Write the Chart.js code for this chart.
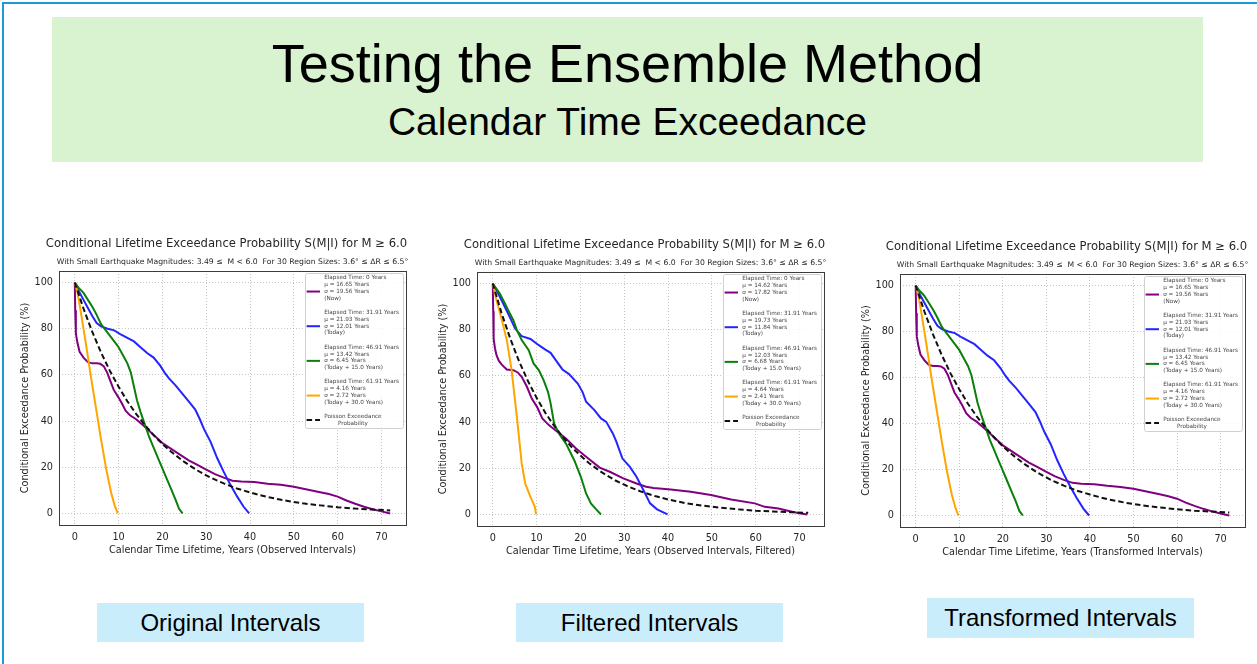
<!DOCTYPE html>
<html>
<head>
<meta charset="utf-8">
<script src="https://cdn.jsdelivr.net/npm/chart.js@4.4.1/dist/chart.umd.min.js"></script>
<style>
  html, body { margin: 0; padding: 0; width: 1257px; height: 664px; overflow: hidden; background: #fff; }
  .abs { position: absolute; }
  .head { font-family: 'Liberation Sans', Arial, sans-serif; color: #000; white-space: nowrap; text-align: center; }
  .tag { position: absolute; background: #caedfb; display: flex; align-items: center; justify-content: center;
         font-family: 'Liberation Sans', Arial, sans-serif; font-size: 24px; color: #000; }
</style>
</head>
<body>
<div class="abs" style="left:2px;top:2px;width:1255px;height:2px;background:#1b9bd7"></div>
<div class="abs" style="left:2px;top:2px;width:2px;height:662px;background:#1b9bd7"></div>

<div class="abs" style="left:52px;top:17px;width:1151px;height:145px;background:#d9f2d0"></div>
<div class="abs head" style="left:52px;width:1151px;top:36px;font-size:54px;line-height:54px">Testing the Ensemble Method</div>
<div class="abs head" style="left:52px;width:1151px;top:102px;font-size:39px;line-height:39px">Calendar Time Exceedance</div>

<canvas id="c1" class="abs" width="420" height="328" style="left:10px;top:229px"></canvas>
<canvas id="c2" class="abs" width="416" height="328" style="left:430px;top:230px"></canvas>
<canvas id="c3" class="abs" width="405" height="327" style="left:852px;top:232px"></canvas>

<div class="tag" style="left:97px;top:603px;width:267px;height:39px">Original Intervals</div>
<div class="tag" style="left:516px;top:603px;width:267px;height:39px">Filtered Intervals</div>
<div class="tag" style="left:927px;top:598px;width:267px;height:40px">Transformed Intervals</div>

<script>
// ---- tick labels ----
const xTicks = [0, 10, 20, 30, 40, 50, 60, 70];
const yTicks = [0, 20, 40, 60, 80, 100];

// ---- original intervals (also used by the transformed panel, which is identical) ----
const origNowT = [0, 0.1, 0.25, 0.6, 1.1, 2.0, 3.0, 4.0, 5.0, 5.8, 6.6, 7.4, 8.2, 8.9, 9.9, 10.8, 11.6, 12.6, 14, 16, 18, 20, 22, 24, 26, 28, 30, 32, 34, 36, 38, 41, 44, 47, 50, 53, 56, 58, 60, 62, 64, 66, 68, 70, 72];
const origNowP = [100, 88, 78, 74, 70, 67.5, 65.5, 65, 65, 64.8, 63.8, 61, 57, 53.5, 50.5, 47.5, 44.5, 42.5, 40.8, 37.5, 34, 30.5, 28, 25.5, 23, 21, 19, 17, 15.5, 14.2, 13.8, 13.6, 12.9, 12.4, 11.6, 10.4, 9.2, 8.4, 7.3, 5.6, 4.2, 2.9, 1.8, 0.9, 0];
const origTodayT = [0, 1, 2, 3, 4, 5, 6, 7.5, 9, 10.5, 12, 13.5, 15, 16.5, 18, 19.5, 20.5, 21.5, 23, 24.5, 26, 27.5, 28.5, 29.5, 31, 32.5, 34, 35.5, 37, 38.5, 39.8];
const origTodayP = [100, 96, 92.5, 89, 85.5, 82.5, 81, 80, 79.3, 77.5, 76, 74.5, 72, 69.5, 67.5, 64, 61, 58.5, 55.5, 52, 48.5, 45, 41, 36.5, 31, 24, 18, 12.5, 7.5, 3, 0];
const origT15T = [0, 1, 2, 3, 4, 5, 6, 7, 8, 9, 10, 11, 12, 12.8, 13.5, 14.2, 15, 16, 17, 18, 19, 20, 21, 22, 23, 23.8, 24.6];
const origT15P = [100, 97.5, 95.5, 92.5, 89.5, 86, 82, 79.5, 77, 74.5, 72, 68.5, 65, 61, 55, 49, 44, 38.5, 33, 28.5, 24, 19.5, 15, 10.5, 6, 2, 0];
const origT30T = [0, 0.6, 1.4, 2.5, 3.7, 4.9, 6, 7.2, 8.3, 9.1, 9.8];
const origT30P = [100, 96, 87, 74, 59, 45, 32, 19, 9, 3.5, 0];
const poissonT = [0, 2, 4, 6, 8, 10, 12, 14, 16, 18, 20, 22, 25, 28, 31, 34, 37, 40, 44, 48, 52, 56, 60, 64, 68, 72];
const origPoissonP = [100, 88.7, 78.6, 69.7, 61.8, 54.9, 48.6, 43.1, 38.3, 33.9, 30.1, 26.7, 22.3, 18.6, 15.5, 13.0, 10.8, 9.1, 7.1, 5.6, 4.4, 3.5, 2.7, 2.1, 1.7, 1.3];
const origLabels = [
  'Elapsed Time: 0 Years\nμ = 16.65 Years\nσ = 19.56 Years\n(Now)\n',
  'Elapsed Time: 31.91 Years\nμ = 21.93 Years\nσ = 12.01 Years\n(Today)\n',
  'Elapsed Time: 46.91 Years\nμ = 13.42 Years\nσ = 6.45 Years\n(Today + 15.0 Years)\n',
  'Elapsed Time: 61.91 Years\nμ = 4.16 Years\nσ = 2.72 Years\n(Today + 30.0 Years)\n',
  'Poisson Exceedance\nProbability'
];

// ---- filtered intervals ----
const filtNowT = [0, 0.1, 0.2, 0.5, 0.85, 1.4, 2, 3.2, 4.7, 5.7, 6.6, 7.2, 7.8, 8.9, 10.1, 11.3, 12.8, 14.3, 16.7, 19, 21.3, 24.4, 26.7, 29.8, 32.8, 35, 36.7, 40.6, 45.2, 49.8, 54.4, 59.8, 62.1, 65.2, 68.3, 70, 71.8];
const filtNowP = [100, 88, 76, 72, 69, 66.5, 65, 62.8, 62.5, 61.5, 59.6, 57.5, 55.3, 50.2, 46.6, 41.6, 38.7, 36.5, 32.9, 28.6, 25, 20.3, 18.5, 15.6, 13.4, 12, 11.5, 10.8, 9.8, 8.4, 6.5, 4.8, 3.3, 2.6, 1.2, 0.5, 0];
const filtTodayT = [0, 1, 2, 3.5, 5.1, 6.6, 8.6, 10.5, 12, 13.2, 14.7, 15.9, 17.4, 19.4, 20.5, 21.3, 23.2, 24.7, 25.9, 27.4, 28.2, 29.6, 31.3, 32.8, 34.4, 35.9, 37.5, 39.9];
const filtTodayP = [100, 96.5, 92.8, 87, 80.5, 77.2, 76, 73.3, 71.4, 70, 66, 62.8, 60.8, 56.7, 53, 48.8, 45.2, 41.6, 40.1, 35.1, 31.5, 24.2, 20.6, 16.3, 10.5, 4.8, 2.2, 0];
const filtT15T = [0, 1.6, 2.8, 3.9, 4.7, 5.5, 6.6, 8.2, 9.3, 10.5, 11.6, 12.6, 13.2, 14, 15.1, 16.7, 18.6, 20.1, 21.3, 22.4, 23.6, 24.7];
const filtT15P = [100, 95.7, 91.3, 87, 84.1, 79.8, 75.5, 71.1, 65.4, 62.5, 58.2, 53.1, 48.1, 39.4, 35.1, 30.7, 23.5, 16.3, 9.1, 4.8, 2.2, 0];
const filtT30T = [0, 0.85, 2, 3.2, 4.3, 5.5, 6.6, 7.4, 8.6, 9.6, 9.9];
const filtT30P = [100, 92.8, 84.8, 75.5, 62.5, 42.3, 22.1, 13.4, 7.6, 3.3, 0];
const filtPoissonP = [100, 87.2, 76.1, 66.3, 57.9, 50.5, 44.0, 38.4, 33.5, 29.2, 25.5, 22.2, 18.1, 14.7, 12.0, 9.8, 8.0, 6.5, 4.9, 3.8, 2.9, 2.2, 1.6, 1.3, 1.0, 0.7];
const filtLabels = [
  'Elapsed Time: 0 Years\nμ = 14.62 Years\nσ = 17.82 Years\n(Now)\n',
  'Elapsed Time: 31.91 Years\nμ = 19.73 Years\nσ = 11.84 Years\n(Today)\n',
  'Elapsed Time: 46.91 Years\nμ = 12.03 Years\nσ = 6.68 Years\n(Today + 15.0 Years)\n',
  'Elapsed Time: 61.91 Years\nμ = 4.64 Years\nσ = 2.41 Years\n(Today + 30.0 Years)\n',
  'Poisson Exceedance\nProbability'
];

const chartTitle = 'Conditional Lifetime Exceedance Probability S(M|I) for M \u2265 6.0';
const chartSubtitle = 'With Small Earthquake Magnitudes: 3.49 \u2264  M < 6.0  For 30 Region Sizes: 3.6\u00b0 \u2264 \u0394R \u2264 6.5\u00b0';
const yTitle = 'Conditional Exceedance Probability (%)';

const colors = ['#800080', '#2424ff', '#0a800a', '#ffa500', '#111111'];
const FONT = "'DejaVu Sans', sans-serif";
const TXT = '#262626';

// figure title (slightly left of the axes centre) and axes subtitle, above the plot
const headings = {
  id: 'headings',
  afterDraw(chart) {
    const { ctx, chartArea: a } = chart;
    const cx = (a.left + a.right) / 2;
    ctx.save();
    ctx.fillStyle = TXT;
    ctx.textAlign = 'center';
    ctx.textBaseline = 'middle';
    ctx.font = '11.6px ' + FONT;
    ctx.fillText(chartTitle, cx - 6, 14.5);
    ctx.font = '7.7px ' + FONT;
    ctx.fillText(chartSubtitle, cx, 33.5);
    ctx.restore();
  }
};

// frame around the plot area (matplotlib spines)
const framePlugin = {
  id: 'frame',
  afterDatasetsDraw(chart) {
    const { ctx, chartArea: a } = chart;
    ctx.save();
    ctx.strokeStyle = '#3c3c3c';
    ctx.lineWidth = 1;
    ctx.strokeRect(Math.round(a.left) + 0.5, Math.round(a.top) + 0.5,
      Math.round(a.right - a.left), Math.round(a.bottom - a.top));
    ctx.restore();
  }
};

// matplotlib-style legend with multi-line labels, inside the upper right corner
const boxLegend = {
  id: 'boxLegend',
  afterDraw(chart) {
    const { ctx, chartArea: a } = chart;
    const fs = 5.7, lh = 6.77, pitch = 34.67, w = 98, h = 155;
    const x = a.right - 3 - w, y = a.top + 2;
    ctx.save();
    ctx.beginPath();
    ctx.roundRect(x + 0.5, y + 0.5, w, h, 2);
    ctx.fillStyle = 'rgba(255,255,255,0.85)';
    ctx.fill();
    ctx.strokeStyle = '#d0d0d0';
    ctx.lineWidth = 1;
    ctx.stroke();
    ctx.font = fs + 'px ' + FONT;
    ctx.textBaseline = 'middle';
    chart.data.datasets.forEach((ds, i) => {
      const lines = ds.legendText.split('\n');
      const top = y + 5 + i * pitch;
      const mid = top + (lines.length - 1) * lh / 2;
      ctx.beginPath();
      ctx.strokeStyle = ds.borderColor;
      ctx.lineWidth = ds.borderWidth;
      ctx.setLineDash(ds.borderDash || []);
      ctx.moveTo(x + 1.6, mid);
      ctx.lineTo(x + 15, mid);
      ctx.stroke();
      ctx.setLineDash([]);
      ctx.fillStyle = '#444';
      const w0 = ctx.measureText(lines[0]).width;
      lines.forEach((ln, k) => {
        let tx = x + 19.2;
        if (ds.legendCenter) tx += (w0 - ctx.measureText(ln).width) / 2;
        ctx.fillText(ln, tx, top + k * lh);
      });
    });
    ctx.restore();
  }
};

function pts(t, v) { return t.map((x, i) => ({ x, y: v[i] })); }

function makeChart(id, g, series, labels, xTitle) {
  const datasets = series.map((s, i) => ({
    data: pts(s[0], s[1]),
    borderColor: colors[i],
    borderWidth: 2,
    borderDash: i === 4 ? [5.5, 3] : [],
    pointRadius: 0,
    fill: false,
    tension: 0,
    order: 5 - i,
    legendText: labels[i],
    legendCenter: i === 4
  }));
  const tickFont = { family: FONT, size: 9.7 };
  const grid = { color: '#b8b8b8', lineWidth: 0.8, drawTicks: false };
  return new Chart(document.getElementById(id), {
    type: 'line',
    data: { datasets },
    plugins: [framePlugin, boxLegend, headings],
    options: {
      responsive: false,
      animation: false,
      devicePixelRatio: 1,
      layout: { padding: { left: 0, right: g.padR, top: 42, bottom: 0 } },
      plugins: {
        legend: { display: false },
        tooltip: { enabled: false },
        title: { display: false }
      },
      scales: {
        x: {
          type: 'linear', min: -3.6, max: 75.6,
          afterBuildTicks: s => { s.ticks = xTicks.map(value => ({ value })); },
          afterFit: s => { s.height = 32; },
          ticks: { color: TXT, font: tickFont, padding: 6.5, maxRotation: 0 },
          grid,
          border: { display: false, dash: [1, 2] },
          title: { display: true, text: xTitle, color: TXT, font: tickFont, padding: { top: 0, bottom: 0.5 } }
        },
        y: {
          type: 'linear', min: -5, max: 105,
          afterBuildTicks: s => { s.ticks = yTicks.map(value => ({ value })); },
          afterFit: s => { s.width = g.yW; },
          ticks: { color: TXT, font: tickFont, padding: 6 },
          grid,
          border: { display: false, dash: [1, 2] },
          title: { display: true, text: yTitle, color: TXT, font: tickFont, padding: { top: g.yPad, bottom: 0 } }
        }
      }
    }
  });
}

const origSeries = [[origNowT, origNowP], [origTodayT, origTodayP], [origT15T, origT15P], [origT30T, origT30P], [poissonT, origPoissonP]];
const filtSeries = [[filtNowT, filtNowP], [filtTodayT, filtTodayP], [filtT15T, filtT15P], [filtT30T, filtT30P], [poissonT, filtPoissonP]];

makeChart('c1', { padR: 24, yW: 49, yPad: 10 }, origSeries, origLabels,
  'Calendar Time Lifetime, Years (Observed Intervals)');
makeChart('c2', { padR: 22, yW: 47, yPad: 8 }, filtSeries, filtLabels,
  'Calendar Time Lifetime, Years (Observed Intervals, Filtered)');
makeChart('c3', { padR: 12, yW: 48, yPad: 9 }, origSeries, origLabels,
  'Calendar Time Lifetime, Years (Transformed Intervals)');
</script>
</body>
</html>
